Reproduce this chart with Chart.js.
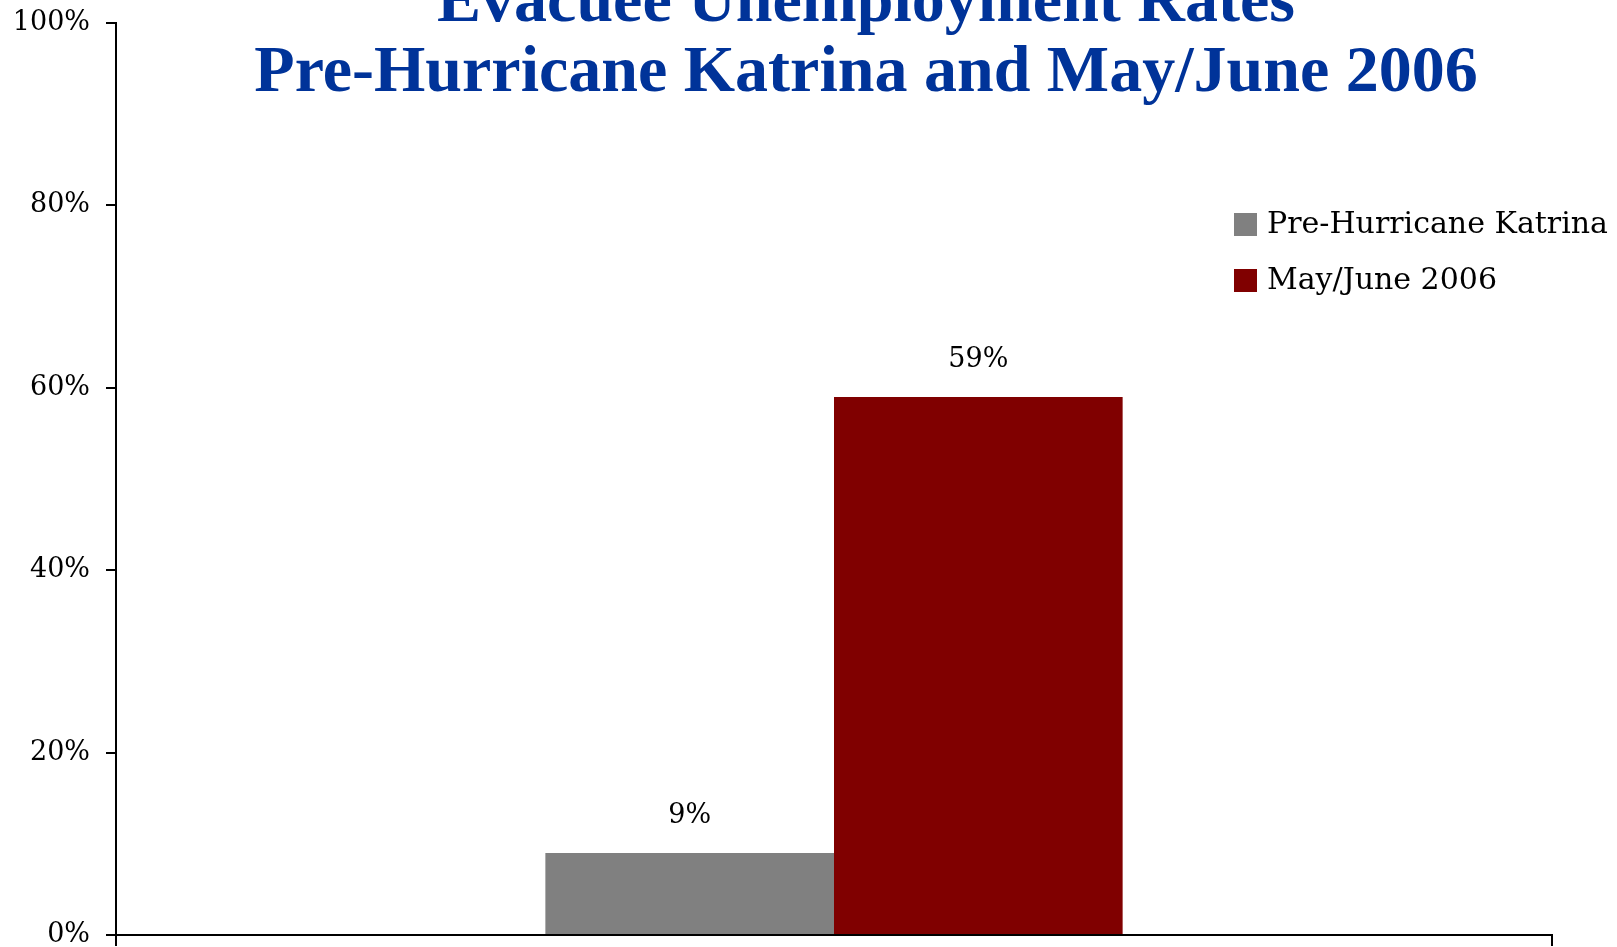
<!DOCTYPE html>
<html>
<head>
<meta charset="utf-8">
<script src="https://cdn.jsdelivr.net/npm/chart.js@4"></script>
<style>
  html, body { margin: 0; padding: 0; background: #fff; }
  #wrap { width: 1617px; height: 947px; position: relative; }
</style>
</head>
<body>
<div id="wrap"><canvas id="rateChart"></canvas></div>
<script>
// chart values
const categories = [''];
const seriesNames = ['Pre-Hurricane Katrina', 'May/June 2006'];
const preKatrina = [9];
const mayJune2006 = [59];
const yTicks = [0, 20, 40, 60, 80, 100];
const titleLines = ['Evacuee Unemployment Rates', 'Pre-Hurricane Katrina and May/June 2006'];

const serif = '"DejaVu Serif", serif';

// Title drawn over the plot (like the original slide)
const titleOverlay = {
    id: 'titleOverlay',
    afterDraw(chart) {
        const ctx = chart.ctx;
        ctx.save();
        ctx.fillStyle = '#003399';
        ctx.font = 'bold 66px "Liberation Serif", serif';
        ctx.textAlign = 'center';
        ctx.textBaseline = 'alphabetic';
        ctx.fillText(titleLines[0], 866, 21);
        ctx.fillText(titleLines[1], 866, 91);
        ctx.restore();
    }
};

// Legend box inside the plot, top right
const insideLegend = {
    id: 'insideLegend',
    afterDraw(chart) {
        const ctx = chart.ctx;
        ctx.save();
        ctx.font = '30px ' + serif;
        ctx.textBaseline = 'middle';
        ctx.textAlign = 'left';
        chart.data.datasets.forEach((ds, i) => {
            const y = 225 + i * 56;
            ctx.fillStyle = ds.backgroundColor;
            ctx.fillRect(1234, y - 12, 23, 23);
            ctx.fillStyle = '#000';
            ctx.fillText(ds.label, 1267, y);
        });
        ctx.restore();
    }
};

// Value labels above bars
const valueLabels = {
    id: 'valueLabels',
    afterDatasetsDraw(chart) {
        const ctx = chart.ctx;
        ctx.save();
        ctx.font = '27px ' + serif;
        ctx.fillStyle = '#000';
        ctx.textAlign = 'center';
        ctx.textBaseline = 'middle';
        chart.data.datasets.forEach((ds, i) => {
            chart.getDatasetMeta(i).data.forEach((bar, j) => {
                ctx.fillText(ds.data[j] + '%', bar.x, bar.y - 37);
            });
        });
        ctx.restore();
    }
};

new Chart(document.getElementById('rateChart'), {
    type: 'bar',
    data: {
        labels: categories,
        datasets: [
            { label: seriesNames[0], data: preKatrina, backgroundColor: '#808080', borderWidth: 0 },
            { label: seriesNames[1], data: mayJune2006, backgroundColor: '#800000', borderWidth: 0 }
        ]
    },
    options: {
        responsive: true,
        maintainAspectRatio: false,
        animation: false,
        layout: { padding: { top: 23, right: 65, left: 0, bottom: 0 } },
        datasets: { bar: { categoryPercentage: 0.402, barPercentage: 1.0 } },
        plugins: {
            legend: { display: false },
            title: { display: false },
            tooltip: { enabled: false }
        },
        scales: {
            x: {
                grid: { drawOnChartArea: false, color: '#000', lineWidth: 2, tickLength: 11 },
                border: { color: '#000', width: 2 },
                ticks: { display: false },
                afterFit(scale) {
                    scale.height = 12;
                    scale.paddingLeft = 0;
                    scale.paddingRight = 0;
                }
            },
            y: {
                min: 0,
                max: 100,
                afterBuildTicks(scale) { scale.ticks = yTicks.map(v => ({ value: v })); },
                grid: { drawOnChartArea: false, color: '#000', lineWidth: 2, tickLength: 10 },
                border: { color: '#000', width: 2 },
                ticks: {
                    color: '#000',
                    padding: 16,
                    font: { family: serif, size: 27 },
                    callback: v => v + '%'
                },
                afterFit(scale) {
                    scale.width = 116;
                    scale.paddingTop = 0;
                    scale.paddingBottom = 0;
                }
            }
        }
    },
    plugins: [valueLabels, insideLegend, titleOverlay]
});
</script>
</body>
</html>
